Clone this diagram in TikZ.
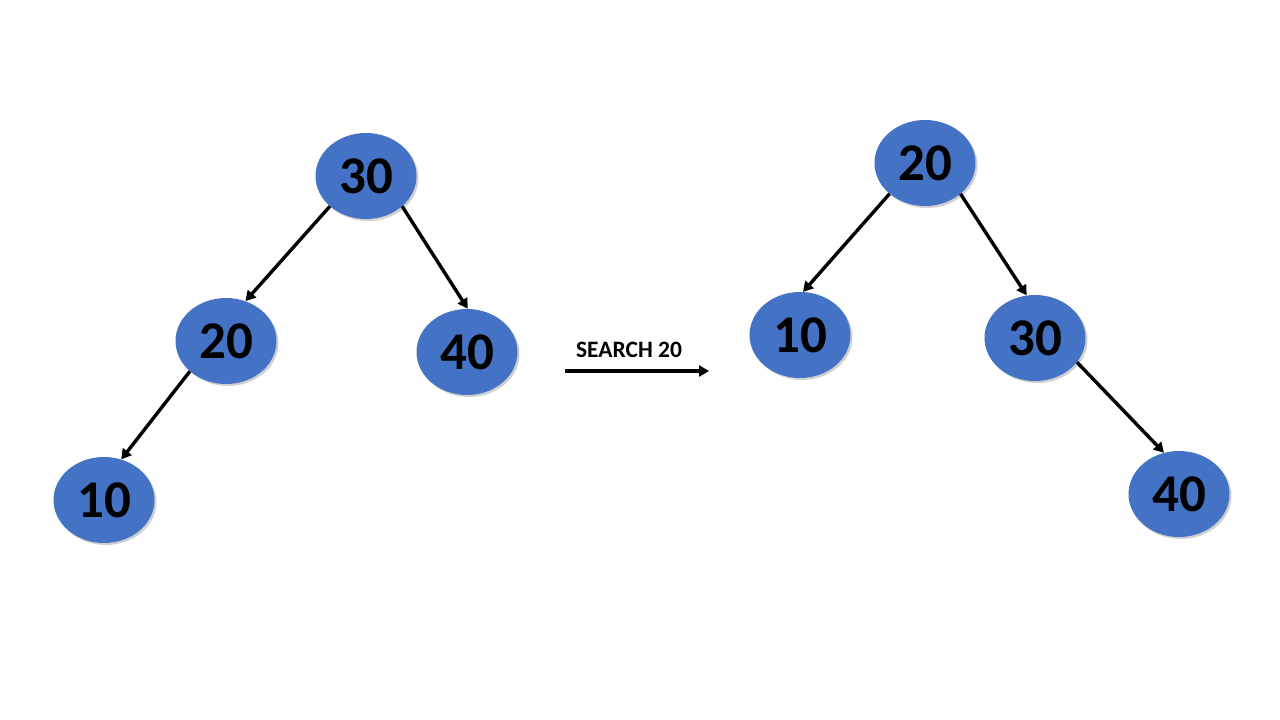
\documentclass[tikz,border=0pt]{standalone}
\usepackage{fontspec}
\setmainfont{Carlito}
\usetikzlibrary{arrows.meta,shapes.geometric,shadows}
\definecolor{nodeblue}{HTML}{4472C4}
\tikzset{
  bst/.style={ellipse, fill=nodeblue, minimum width=101pt, minimum height=86pt, inner sep=0pt,
    font=\fontsize{53}{53}\selectfont\bfseries, text=black,
    drop shadow={shadow xshift=2pt, shadow yshift=-2pt, opacity=0.3, fill=black!60}},
  edge/.style={line width=3.4pt, -{Triangle[length=10pt,width=11pt]}},
}
\begin{document}
\begin{tikzpicture}[x=1pt,y=1pt]
\useasboundingbox[fill=white] (0,0) rectangle (1280,-720);
% left tree
\node[bst] (l30) at (366,-176) {30};
\node[bst] (l20) at (226,-341) {20};
\node[bst] (l40) at (467,-352) {40};
\node[bst] (l10) at (104,-500) {10};
% right tree
\node[bst] (r20) at (925,-163) {20};
\node[bst] (r10) at (800,-335) {10};
\node[bst] (r30) at (1035,-338) {30};
\node[bst] (r40) at (1179,-494) {40};
% edges
\draw[edge] (l30.220) -- (l20.64);
\draw[edge] (l30.320) -- (l40.89);
\draw[edge] (l20.220) -- (l10.67);
\draw[edge] (r20.221) -- (r10.86);
\draw[edge] (r20.319) -- (r30.101);
\draw[edge] (r30.330) -- (r40.110);
% search arrow
\coordinate (sa) at (565,-371);
\coordinate (sb) at (709,-371);
\draw[edge] (sa) -- (sb);
\node[font=\fontsize{23.5}{23.5}\selectfont\bfseries, anchor=base] (lbl) at (629,-357) {SEARCH 20};
\end{tikzpicture}
\end{document}
